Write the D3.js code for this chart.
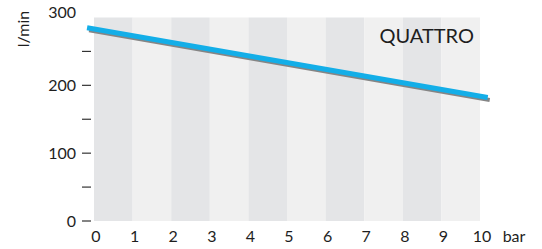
<!DOCTYPE html>
<html>
<head>
<meta charset="utf-8">
<script src="https://cdn.jsdelivr.net/npm/d3@7"></script>
<style>
  body { margin: 0; background: #fff; }
  text { font-family: "Lato", "Open Sans", sans-serif; fill: #1e1e1e; }
</style>
</head>
<body>
<div id="chart"></div>
<script>
const pressure = [-0.18, 10.2];
const flow = [285, 182];
const xTicks = [0, 1, 2, 3, 4, 5, 6, 7, 8, 9, 10];
const yMajor = [0, 100, 200, 300];
const yMinor = [50, 150, 250];
const seriesName = "QUATTRO";

const W = 542, H = 249;
const margin = {top: 17.5, right: 62, bottom: 28, left: 94};
const width = W - margin.left - margin.right,
    height = H - margin.top - margin.bottom;

const svg = d3.select("#chart")
    .append("svg")
    .attr("width", W)
    .attr("height", H);

const g = svg.append("g")
    .attr("transform", `translate(${margin.left},${margin.top})`);

const x = d3.scaleLinear().domain([0, 10]).range([0, width]);
const y = d3.scaleLinear().domain([0, 300]).range([height, 0]);

// alternating bands
g.selectAll(".band")
    .data(xTicks.slice(0, -1))
    .enter()
    .append("rect")
    .attr("class", "band")
    .attr("x", d => x(d))
    .attr("y", 0)
    .attr("width", d => x(d + 1) - x(d))
    .attr("height", height)
    .style("fill", d => d % 2 === 0 ? "#e4e5e7" : "#f0f0f0");

// y ticks
g.selectAll(".ytick")
    .data(yMajor.filter(d => d < 300).concat(yMinor))
    .enter()
    .append("line")
    .attr("x1", -12)
    .attr("x2", -3)
    .attr("y1", d => y(d))
    .attr("y2", d => y(d))
    .style("stroke", "#333")
    .style("stroke-width", 1.2);

g.selectAll(".ylabel")
    .data(yMajor)
    .enter()
    .append("text")
    .attr("x", -18)
    .attr("y", d => y(d))
    .attr("dy", d => d === 300 ? "0.05em" : "0.35em")
    .attr("text-anchor", "end")
    .style("font-size", "16px")
    .text(d => d);

g.selectAll(".xlabel")
    .data(xTicks)
    .enter()
    .append("text")
    .attr("x", d => x(d) + 2)
    .attr("y", height + 21)
    .attr("text-anchor", "middle")
    .style("font-size", "16px")
    .text(d => d);

g.append("text")
    .attr("x", x(10) + 34)
    .attr("y", height + 21)
    .attr("text-anchor", "middle")
    .style("font-size", "16px")
    .text("bar");

svg.append("text")
    .attr("transform", "translate(29,29) rotate(-90)")
    .attr("text-anchor", "middle")
    .style("font-size", "16px")
    .text("l/min");

g.append("text")
    .attr("x", x(10) - 6)
    .attr("y", 25.5)
    .attr("text-anchor", "end")
    .style("font-size", "20px")
    .text(seriesName);

const pts = pressure.map((p, i) => [p, flow[i]]);
const line = d3.line().x(d => x(d[0])).y(d => y(d[1]));

g.append("path")
    .datum(pts)
    .attr("d", line)
    .attr("transform", "translate(2,2.5)")
    .style("fill", "none")
    .style("stroke", "#858585")
    .style("stroke-width", 4);

g.append("path")
    .datum(pts)
    .attr("d", line)
    .style("fill", "none")
    .style("stroke", "#13aee8")
    .style("stroke-width", 5);
</script>
</body>
</html>
